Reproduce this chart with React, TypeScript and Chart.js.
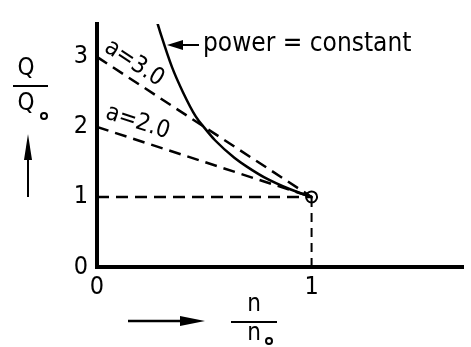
import React, { useEffect, useRef } from "react";
import { Chart, registerables } from "chart.js";

Chart.register(...registerables);

// Values
const powerN = [0.275, 0.3, 0.35, 0.4, 0.46, 0.5, 0.55, 0.64, 0.7, 0.78, 0.9, 1.0];
const powerQ = [3.55, 3.3, 2.85, 2.5, 2.15, 1.99, 1.81, 1.56, 1.43, 1.28, 1.11, 1.0];
const lineA3N = [0, 1];
const lineA3Q = [3, 1];
const lineA2N = [0, 1];
const lineA2Q = [2, 1];
const refHN = [0, 1];
const refHQ = [1, 1];
const refVN = [1, 1];
const refVQ = [0, 1];
const designN = [1];
const designQ = [1];
const xTickValues = [0, 1];
const yTickValues = [0, 1, 2, 3];
const labelA3 = "a=3.0";
const labelA2 = "a=2.0";
const labelPower = "power = constant";

const FONT = '"DejaVu Sans Condensed", "DejaVu Sans", sans-serif';

const pts = (xs: number[], ys: number[]) => xs.map((x, i) => ({ x, y: ys[i] }));

const annotations = {
  id: "annotations",
  afterDraw(chart: any) {
    const ctx = chart.ctx;
    const xs = chart.scales.x;
    const ys = chart.scales.y;
    ctx.save();
    ctx.fillStyle = "#000";
    ctx.strokeStyle = "#000";
    ctx.font = `24px ${FONT}`;
    ctx.textAlign = "center";
    ctx.textBaseline = "middle";

    // a-labels along the lines
    const drawAlong = (text: string, n0: number, q0: number, n1: number, q1: number, t: number, off: number) => {
      const xa = xs.getPixelForValue(n0), ya = ys.getPixelForValue(q0);
      const xb = xs.getPixelForValue(n1), yb = ys.getPixelForValue(q1);
      const ang = Math.atan2(yb - ya, xb - xa);
      const px = xa + (xb - xa) * t, py = ya + (yb - ya) * t;
      ctx.save();
      ctx.translate(px, py);
      ctx.rotate(ang);
      ctx.fillText(text, 0, -off);
      ctx.restore();
    };
    drawAlong(labelA3, lineA3N[0], lineA3Q[0], lineA3N[1], lineA3Q[1], 0.135, 15);
    drawAlong(labelA2, lineA2N[0], lineA2Q[0], lineA2N[1], lineA2Q[1], 0.165, 17);

    // power = constant label with arrow
    ctx.font = `26px ${FONT}`;
    ctx.textAlign = "left";
    ctx.fillText(labelPower, 203, 44);
    ctx.lineWidth = 2;
    ctx.beginPath();
    ctx.moveTo(199, 45);
    ctx.lineTo(176, 45);
    ctx.stroke();
    ctx.beginPath();
    ctx.moveTo(167, 45);
    ctx.lineTo(183, 40);
    ctx.lineTo(183, 50);
    ctx.closePath();
    ctx.fill();

    // y-axis title: Q / Q0 with upward arrow
    ctx.textAlign = "center";
    ctx.font = `24px ${FONT}`;
    ctx.fillText("Q", 26, 69);
    ctx.lineWidth = 2;
    ctx.beginPath();
    ctx.moveTo(13, 86);
    ctx.lineTo(48, 86);
    ctx.stroke();
    ctx.fillText("Q", 26, 104);
    ctx.lineWidth = 2;
    ctx.beginPath();
    ctx.arc(44, 116, 3, 0, Math.PI * 2);
    ctx.stroke();
    ctx.beginPath();
    ctx.moveTo(28, 197);
    ctx.lineTo(28, 150);
    ctx.stroke();
    ctx.beginPath();
    ctx.moveTo(28, 134);
    ctx.lineTo(24, 160);
    ctx.lineTo(32, 160);
    ctx.closePath();
    ctx.fill();

    // x-axis title: n / n0 with right arrow
    ctx.font = `24px ${FONT}`;
    ctx.fillText("n", 254, 305);
    ctx.beginPath();
    ctx.moveTo(231, 322);
    ctx.lineTo(277, 322);
    ctx.stroke();
    ctx.fillText("n", 254, 334);
    ctx.beginPath();
    ctx.arc(269, 341, 3, 0, Math.PI * 2);
    ctx.stroke();
    ctx.lineWidth = 2.5;
    ctx.beginPath();
    ctx.moveTo(128, 321);
    ctx.lineTo(185, 321);
    ctx.stroke();
    ctx.beginPath();
    ctx.moveTo(205, 321);
    ctx.lineTo(180, 316);
    ctx.lineTo(180, 326);
    ctx.closePath();
    ctx.fill();

    // inner dot of the design point
    const dx = xs.getPixelForValue(designN[0]);
    const dy = ys.getPixelForValue(designQ[0]);
    ctx.beginPath();
    ctx.arc(dx, dy, 1.5, 0, Math.PI * 2);
    ctx.fill();
    ctx.restore();
  },
};

export default function App() {
  const ref = useRef<HTMLCanvasElement | null>(null);
  useEffect(() => {
    if (!ref.current) return;
    const dash = [12, 7];
    const chart = new Chart(ref.current, {
      type: "scatter",
      data: {
        datasets: [
          {
            label: "power = constant",
            data: pts(powerN, powerQ),
            showLine: true,
            borderColor: "#000",
            borderWidth: 2.5,
            pointRadius: 0,
            cubicInterpolationMode: "monotone",
          },
          {
            label: "a=3.0",
            data: pts(lineA3N, lineA3Q),
            showLine: true,
            borderColor: "#000",
            borderWidth: 2.5,
            borderDash: dash,
            pointRadius: 0,
          },
          {
            label: "a=2.0",
            data: pts(lineA2N, lineA2Q),
            showLine: true,
            borderColor: "#000",
            borderWidth: 2.5,
            borderDash: dash,
            pointRadius: 0,
          },
          {
            label: "ref h",
            data: pts(refHN, refHQ),
            showLine: true,
            borderColor: "#000",
            borderWidth: 2.5,
            borderDash: dash,
            pointRadius: 0,
          },
          {
            label: "ref v",
            data: pts(refVN, refVQ),
            showLine: true,
            borderColor: "#000",
            borderWidth: 2,
            borderDash: [9, 6],
            pointRadius: 0,
          },
          {
            label: "design",
            data: pts(designN, designQ),
            showLine: false,
            borderColor: "#000",
            backgroundColor: "#fff",
            borderWidth: 2,
            pointRadius: 5.5,
          },
        ],
      },
      options: {
        animation: false,
        responsive: false,
        layout: { padding: { top: 10, right: 0, left: 0, bottom: 0 } },
        plugins: { legend: { display: false }, tooltip: { enabled: false } },
        scales: {
          x: {
            type: "linear",
            min: 0,
            max: 1.708,
            afterFit: (s: any) => { s.height = 80; },
            afterBuildTicks: (s: any) => { s.ticks = xTickValues.map((v) => ({ value: v })); },
            grid: { display: false, drawTicks: false },
            border: { display: true, color: "#000", width: 4 },
            ticks: { color: "#000", font: { family: FONT, size: 25 }, padding: 5, maxRotation: 0 },
          },
          y: {
            type: "linear",
            min: 0,
            max: 3.47,
            afterFit: (s: any) => { s.width = 97; },
            afterBuildTicks: (s: any) => { s.ticks = yTickValues.map((v) => ({ value: v })); },
            grid: { display: false, drawTicks: false },
            border: { display: true, color: "#000", width: 4 },
            ticks: { color: "#000", font: { family: FONT, size: 25 }, padding: 9 },
          },
        },
      },
      plugins: [annotations],
    } as any);
    return () => chart.destroy();
  }, []);
  return (
    <div style={{ position: "fixed", left: 0, top: 0, width: 471, height: 347, background: "#fff" }}>
      <canvas ref={ref} width={471} height={347} style={{ width: 471, height: 347 }} />
    </div>
  );
}
